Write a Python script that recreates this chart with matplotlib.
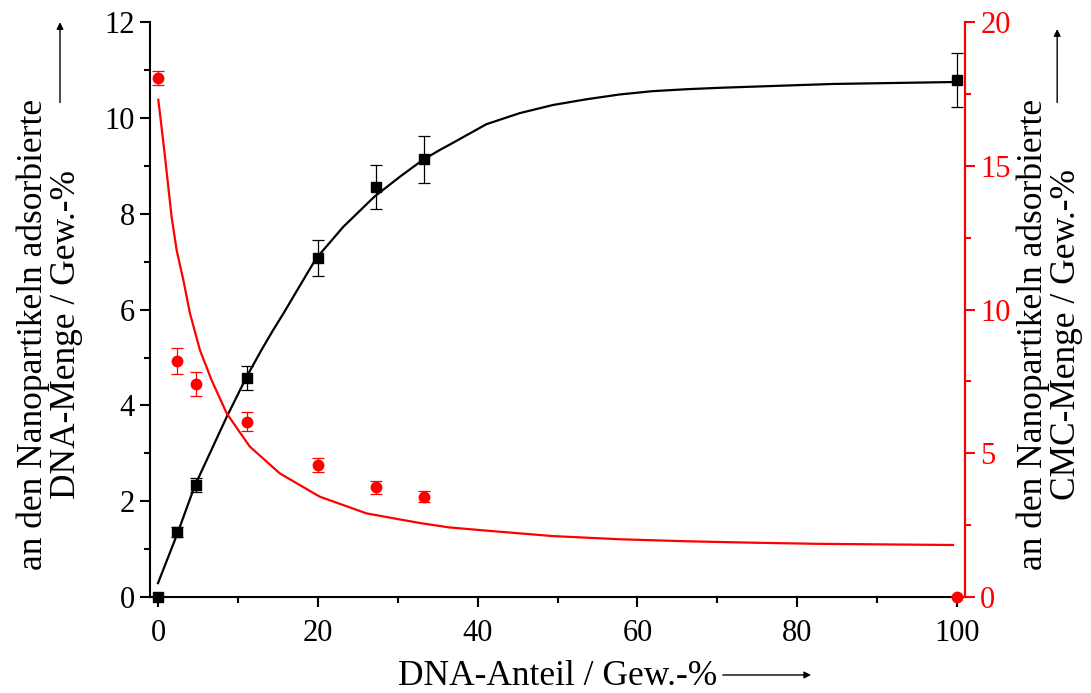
import matplotlib
matplotlib.use("Agg")
import matplotlib.pyplot as plt
from matplotlib.patches import FancyArrowPatch

# Messwerte: DNA-Anteil in Gew.-%
dna_anteil = [0.0, 2.44, 4.76, 11.1, 20.0, 27.3, 33.3, 100.0]

# adsorbierte DNA-Menge (linke Achse) mit Fehlern
dna_menge = [0.0, 1.36, 2.34, 4.57, 7.08, 8.56, 9.14, 10.79]
dna_fehler = [0.0, 0.10, 0.15, 0.25, 0.37, 0.46, 0.49, 0.56]

# adsorbierte CMC-Menge (rechte Achse) mit Fehlern
cmc_menge = [18.05, 8.21, 7.41, 6.09, 4.60, 3.82, 3.49, 0.0]
cmc_fehler = [0.24, 0.45, 0.42, 0.33, 0.25, 0.22, 0.20, 0.0]

fit_dna_x = [0.0, 2.44, 4.6, 8.6, 11.1, 12.96, 14.4, 15.7, 18.4, 19.8,
             23.2, 27.1, 30.25, 33.1, 35.25, 36.9, 41.1, 45.25, 49.4, 53.6,
             57.75, 61.9, 66.1, 70.25, 84.4, 99.4]
fit_dna_y = [0.29, 1.33, 2.32, 3.76, 4.60, 5.16, 5.57, 5.92, 6.68, 7.07,
             7.73, 8.36, 8.77, 9.12, 9.33, 9.48, 9.87, 10.10, 10.27, 10.39,
             10.49, 10.56, 10.60, 10.63, 10.71, 10.75]

fit_cmc_x = [0.04, 0.875, 1.7, 2.33, 3.17, 4.0, 5.25, 6.7, 8.6, 10.04, 11.5,
             13.6, 15.25, 20.25, 26.1, 30.25, 33.1, 36.5, 41.1, 49.4, 57.75,
             66.1, 74.4, 82.75, 95.25, 99.5]
fit_cmc_y = [17.3, 15.32, 13.23, 12.07, 11.03, 9.87, 8.59, 7.55, 6.39, 5.81,
             5.23, 4.71, 4.30, 3.49, 2.91, 2.70, 2.56, 2.42, 2.31, 2.12, 2.01,
             1.94, 1.89, 1.85, 1.82, 1.81]

plt.rcParams['font.family'] = ['Liberation Serif', 'DejaVu Serif']
plt.rcParams['font.size'] = 22

fig = plt.figure(figsize=(10.91, 6.93), dpi=100)
ax = fig.add_axes([0.1375, 0.1385, 0.747, 0.8295])
ax2 = ax.twinx()

# DNA (schwarz, Quadrate)
ax.plot(fit_dna_x, fit_dna_y, color='black', lw=1.6, zorder=2)
ax.errorbar(dna_anteil, dna_menge, yerr=dna_fehler, fmt='s', color='black',
            ms=7, ecolor='black', elinewidth=0.9, capsize=4.4, capthick=0.9,
            clip_on=False, zorder=3)

# CMC (rot, Kreise)
ax2.plot(fit_cmc_x, fit_cmc_y, color='red', lw=1.6, zorder=2)
ax2.errorbar(dna_anteil, cmc_menge, yerr=cmc_fehler, fmt='o', color='red',
             ms=7.5, ecolor='red', elinewidth=0.9, capsize=4.4, capthick=0.9,
             clip_on=False, zorder=3)

ax.set_xlim(-1, 101)
ax.set_ylim(0, 12)
ax2.set_ylim(0, 20)

ax.set_xticks([0, 20, 40, 60, 80, 100])
ax.set_xticks([10, 30, 50, 70, 90], minor=True)
ax.set_yticks(range(0, 13, 2))
ax.set_yticks(range(1, 12, 2), minor=True)
ax2.set_yticks([0, 5, 10, 15, 20])
ax2.set_yticks([2.5, 7.5, 12.5, 17.5], minor=True)

for a in (ax, ax2):
    a.spines['top'].set_visible(False)
    for s in a.spines.values():
        s.set_linewidth(1.5)

ax2.spines['right'].set_color('red')
ax2.spines['left'].set_visible(False)
ax2.spines['bottom'].set_visible(False)

ax.tick_params(which='major', direction='out', length=7, width=1.5, pad=4)
ax.tick_params(which='minor', direction='out', length=4.3, width=1.5)
ax.tick_params(axis='x', which='major', pad=9)
ax2.tick_params(which='major', direction='out', length=7, width=1.5, pad=4,
                colors='red')
ax2.tick_params(which='minor', direction='out', length=4.3, width=1.5,
                colors='red')

# Achsenbeschriftungen mit Pfeilen
fig.text(0.046, 0.517, "an den Nanopartikeln adsorbierte\nDNA-Menge / Gew.-%",
         rotation=90, ha='center', va='center', linespacing=1.0, fontsize=25.5)
fig.text(0.962, 0.517, "an den Nanopartikeln adsorbierte\nCMC-Menge / Gew.-%",
         rotation=90, ha='center', va='center', linespacing=1.0, fontsize=25.5)
fig.text(0.511, 0.024, "DNA-Anteil / Gew.-%", ha='center', va='center',
         fontsize=25.5)

arrow = dict(arrowstyle='-|>', color='black', lw=1.0, mutation_scale=10)
fig.add_artist(FancyArrowPatch((0.055, 0.848), (0.055, 0.972),
                               transform=fig.transFigure, **arrow))
fig.add_artist(FancyArrowPatch((0.969, 0.848), (0.969, 0.962),
                               transform=fig.transFigure, **arrow))
fig.add_artist(FancyArrowPatch((0.660, 0.026), (0.746, 0.026),
                               transform=fig.transFigure, **arrow))

fig.savefig("out.png", dpi=100)
